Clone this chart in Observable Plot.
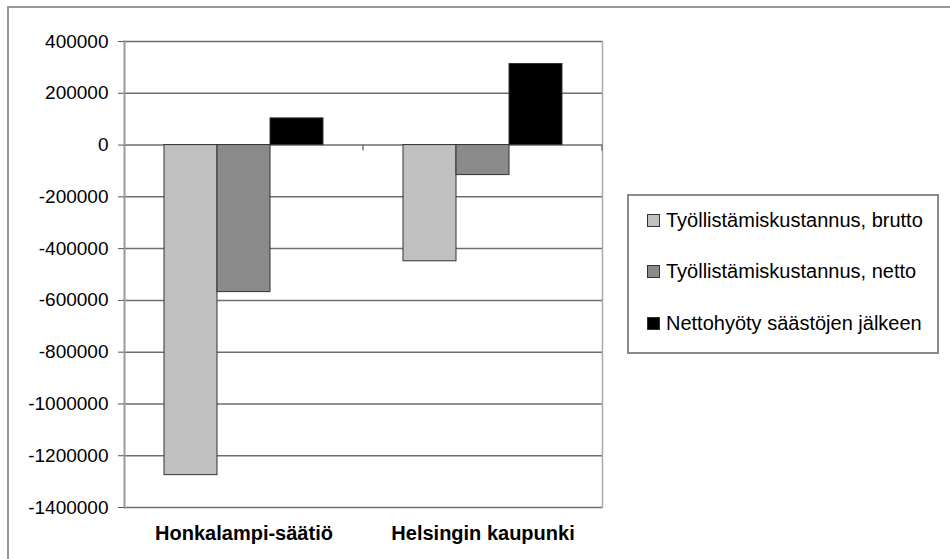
<!DOCTYPE html>
<html>
<head>
<meta charset="utf-8">
<script src="https://cdn.jsdelivr.net/npm/d3@7"></script>
<script src="https://cdn.jsdelivr.net/npm/@observablehq/plot@0.6"></script>
<style>
  html, body { margin: 0; padding: 0; background: #fff; overflow: hidden; }
  body { width: 950px; height: 559px; position: relative; font-family: "Liberation Sans", Arial, sans-serif; }
  #frame { position: absolute; left: 7px; top: 6px; width: 1000px; height: 600px;
           border-top: 2px solid #999; border-left: 2px solid #999; }
  #chart { position: absolute; left: 0; top: 0; }
  #legend { position: absolute; left: 627px; top: 194px; width: 308px; height: 156px;
            border: 2px solid #8a8a8a; background: #fff; }
  .item { position: absolute; left: 18px; display: flex; align-items: center; font-size: 20px; color: #000; white-space: nowrap; }
  .sw { width: 11px; height: 11px; border: 1px solid #333; margin-right: 6px; }
</style>
</head>
<body>
<div id="frame"></div>
<div id="chart"></div>
<div id="legend"></div>
<script>
const categories = ["Honkalampi-säätiö", "Helsingin kaupunki"];
const series = ["Työllistämiskustannus, brutto", "Työllistämiskustannus, netto", "Nettohyöty säästöjen jälkeen"];
const colors = ["#c0c0c0", "#8a8a8a", "#000000"];
const honkalampi = [-1275000, -568000, 103000];
const helsinki = [-449000, -116000, 313000];
const yTicks = [400000, 200000, 0, -200000, -400000, -600000, -800000, -1000000, -1200000, -1400000];

const data = [];
series.forEach((s, i) => {
  data.push({cat: categories[0], series: s, value: honkalampi[i]});
  data.push({cat: categories[1], series: s, value: helsinki[i]});
});

const chart = Plot.plot({
  width: 950,
  height: 559,
  marginLeft: 124,
  marginRight: 348,
  marginTop: 41,
  marginBottom: 52,
  style: {fontFamily: "'Liberation Sans', Arial, sans-serif", fontSize: "19px", background: "transparent", color: "#000", overflow: "visible"},
  fx: {domain: categories, padding: 0, label: null},
  x: {domain: series, paddingInner: 0, paddingOuter: 0.73, axis: null},
  y: {domain: [-1400000, 400000], label: null},
  color: {domain: series, range: colors},
  marks: [
    Plot.gridY(yTicks, {stroke: "#6e6e6e", strokeOpacity: 1, strokeWidth: 1.5}),
    Plot.frame({anchor: "left", facetAnchor: "left", stroke: "#9a9a9a", strokeWidth: 2}),
    Plot.frame({anchor: "right", facetAnchor: "right", stroke: "#aaaaaa", strokeWidth: 1.5}),
    Plot.barY(data, {fx: "cat", x: "series", y: "value", fill: "series", stroke: "#333", strokeWidth: 1}),
    Plot.axisY(yTicks, {tickSize: 6, tickPadding: 10, tickFormat: d => String(d), stroke: "#555", label: null}),
    Plot.axisFx({anchor: "bottom", tickSize: 0, tickPadding: 18, fontWeight: "bold", fontSize: 20, label: null})
  ]
});
document.getElementById("chart").appendChild(chart);

// small category-boundary ticks on the zero axis, placed via the chart's own scales
const fx = chart.scale("fx");
const ys = chart.scale("y");
const y0 = ys.apply(0);
const svg = d3.select(chart.tagName.toLowerCase() === "svg" ? chart : chart.querySelector("svg"));
[fx.apply(categories[1]), fx.apply(categories[1]) + fx.bandwidth].forEach(px => {
  svg.append("line").attr("x1", px).attr("x2", px).attr("y1", y0).attr("y2", y0 + 6)
     .attr("stroke", "#777").attr("stroke-width", 1.5);
});

// legend
const legend = document.getElementById("legend");
const tops = [13, 64, 116];
series.forEach((s, i) => {
  const it = document.createElement("div");
  it.className = "item";
  it.style.top = tops[i] + "px";
  const sw = document.createElement("div");
  sw.className = "sw";
  sw.style.background = colors[i];
  it.appendChild(sw);
  const t = document.createElement("span");
  t.textContent = s;
  it.appendChild(t);
  legend.appendChild(it);
});
</script>
</body>
</html>
